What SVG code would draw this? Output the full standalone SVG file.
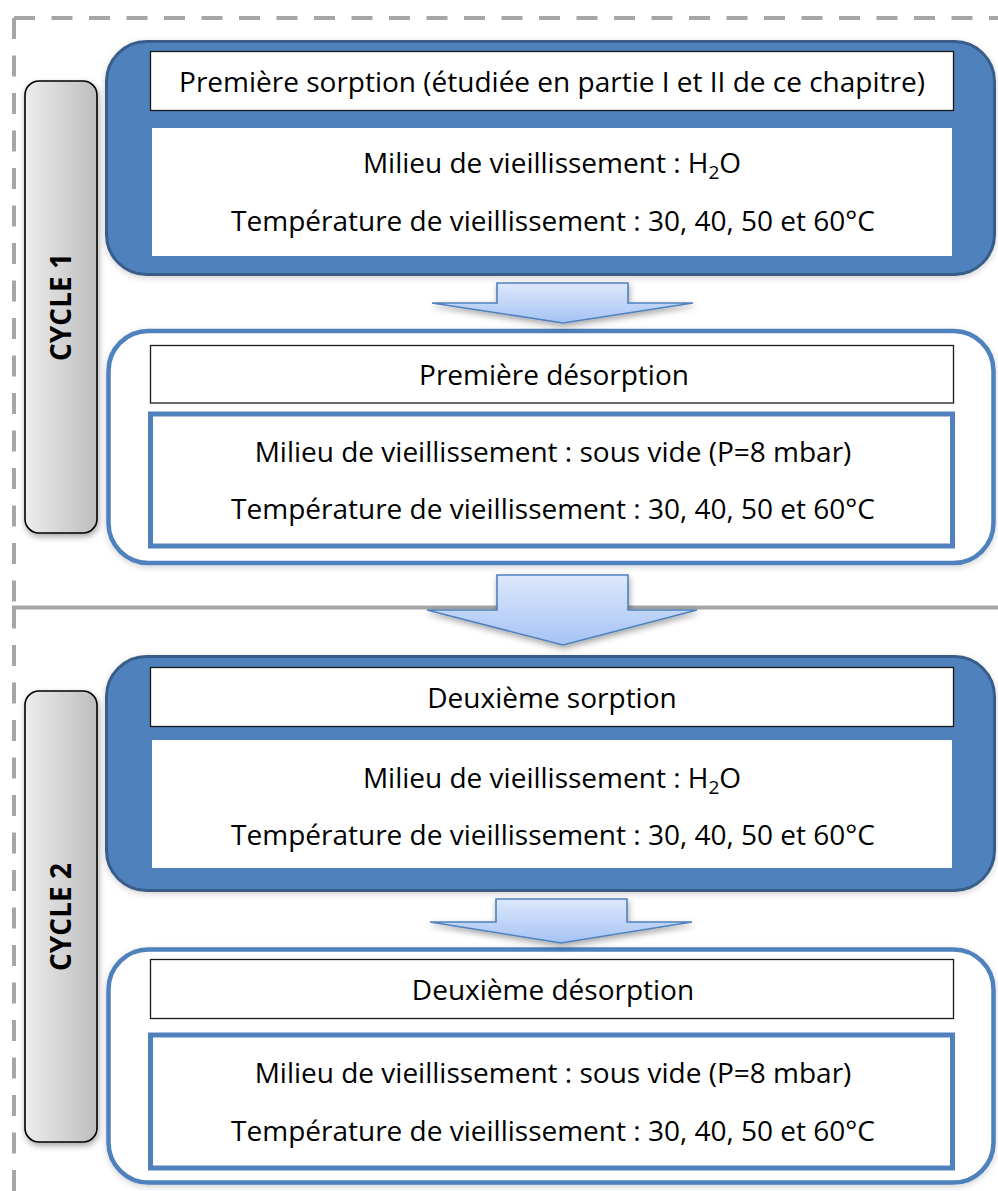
<svg xmlns="http://www.w3.org/2000/svg" width="998" height="1191" viewBox="0 0 998 1191">
  <defs>
    <linearGradient id="cycleFill" x1="0" y1="0" x2="1" y2="0">
      <stop offset="0" stop-color="#ededed"/>
      <stop offset="1" stop-color="#bdbdbd"/>
    </linearGradient>
    <linearGradient id="arrowFill" x1="0" y1="0" x2="0" y2="1">
      <stop offset="0" stop-color="#dde8fc"/>
      <stop offset="1" stop-color="#a6c3f4"/>
    </linearGradient>
    <filter id="shadow" x="-20%" y="-20%" width="140%" height="150%">
      <feDropShadow dx="1" dy="3" stdDeviation="3" flood-color="#000" flood-opacity="0.35"/>
    </filter>
    <filter id="softShadow" x="-5%" y="-5%" width="110%" height="115%">
      <feDropShadow dx="0" dy="2" stdDeviation="3" flood-color="#000" flood-opacity="0.18"/>
    </filter>
    <style>
      .frame { fill: none; stroke: #a6a6a6; stroke-width: 4; stroke-dasharray: 21 16.5; }
      .sep { fill: none; stroke: #a6a6a6; stroke-width: 4; }
      .cycle { fill: url(#cycleFill); stroke: #000; stroke-width: 1.6; filter: url(#shadow); }
      .cycleText { font-family: "Open Sans", "Liberation Sans", sans-serif; font-weight: bold; font-size: 28px; fill: #000; text-anchor: middle; }
      .solid { fill: #4f81bd; stroke: #385d8a; stroke-width: 3; filter: url(#softShadow); }
      .outline { fill: #fff; stroke: #4f81bd; stroke-width: 4.5; filter: url(#softShadow); }
      .title { fill: #fff; stroke: #1a1a1a; stroke-width: 1.3; }
      .panel { fill: #fff; }
      .panelBox { fill: #fff; stroke: #4f81bd; stroke-width: 5; }
      .txt { font-family: "Open Sans", "Liberation Sans", sans-serif; font-size: 28px; fill: #000; text-anchor: middle; }
      .arrow { fill: url(#arrowFill); stroke: #4f81bd; stroke-width: 1.6; stroke-linejoin: miter; filter: url(#shadow); }
    </style>
  </defs>

  <rect width="998" height="1191" fill="#fff"/>

  <!-- dashed frame with the separation between the two cycles -->
  <g id="frame">
    <path class="frame" d="M14,18 H998"/>
    <path class="frame" d="M14,18 V607.5"/>
    <path class="frame" d="M14,607.5 V1191"/>
    <path class="sep" d="M12,607.5 H998"/>
  </g>

  <!-- cycle labels -->
  <g id="cycle1">
    <rect class="cycle" x="25" y="81" width="72" height="452" rx="14"/>
    <text class="cycleText" transform="translate(71,307) rotate(-90)">CYCLE 1</text>
  </g>
  <g id="cycle2">
    <rect class="cycle" x="25" y="691" width="72" height="451" rx="14"/>
    <text class="cycleText" transform="translate(71,917) rotate(-90)">CYCLE 2</text>
  </g>

  <!-- first sorption -->
  <g id="sorption1">
    <rect class="solid" x="106.5" y="41.5" width="888" height="233" rx="40"/>
    <rect class="title" x="150.5" y="51.5" width="803" height="59"/>
    <text class="txt" x="552" y="92">Première sorption (étudiée en partie I et II de ce chapitre)</text>
    <rect class="panel" x="152" y="128" width="800" height="128"/>
    <text class="txt" x="552" y="173">Milieu de vieillissement : H<tspan font-size="19" dy="6">2</tspan><tspan dy="-6">O</tspan></text>
    <text class="txt" x="553" y="231">Température de vieillissement : 30, 40, 50 et 60°C</text>
  </g>

  <!-- first desorption -->
  <g id="desorption1">
    <rect class="outline" x="108.5" y="331" width="885" height="232" rx="40"/>
    <rect class="title" x="150.5" y="345.5" width="803" height="57.5"/>
    <text class="txt" x="554" y="385">Première désorption</text>
    <rect class="panelBox" x="150.5" y="414" width="802" height="132"/>
    <text class="txt" x="553" y="462">Milieu de vieillissement : sous vide (P=8 mbar)</text>
    <text class="txt" x="553" y="519">Température de vieillissement : 30, 40, 50 et 60°C</text>
  </g>

  <!-- second sorption -->
  <g id="sorption2">
    <rect class="solid" x="106.5" y="656.5" width="888" height="234" rx="40"/>
    <rect class="title" x="150.5" y="667.5" width="803" height="59"/>
    <text class="txt" x="552" y="708">Deuxième sorption</text>
    <rect class="panel" x="152" y="740" width="800" height="128"/>
    <text class="txt" x="552" y="788">Milieu de vieillissement : H<tspan font-size="19" dy="6">2</tspan><tspan dy="-6">O</tspan></text>
    <text class="txt" x="553" y="845">Température de vieillissement : 30, 40, 50 et 60°C</text>
  </g>

  <!-- second desorption -->
  <g id="desorption2">
    <rect class="outline" x="108.5" y="949.5" width="885" height="233" rx="40"/>
    <rect class="title" x="150.5" y="959.5" width="803" height="59"/>
    <text class="txt" x="553" y="1000">Deuxième désorption</text>
    <rect class="panelBox" x="150.5" y="1035" width="802" height="133"/>
    <text class="txt" x="553" y="1083">Milieu de vieillissement : sous vide (P=8 mbar)</text>
    <text class="txt" x="553" y="1141">Température de vieillissement : 30, 40, 50 et 60°C</text>
  </g>

  <!-- block arrows between the steps -->
  <g id="connectors">
    <polygon class="arrow" points="497,283 628,283 628,303 693,303 563,323 432,303 497,303"/>
    <polygon class="arrow" points="497,575 628,575 628,610 697,610 563,645 427,610 497,610"/>
    <polygon class="arrow" points="496,899 627,899 627,922 692,922 561,943 430,922 496,922"/>
  </g>
</svg>
